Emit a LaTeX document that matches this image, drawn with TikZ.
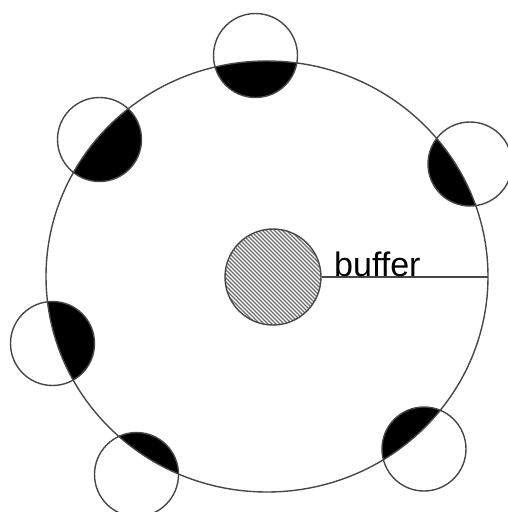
\documentclass[tikz,border=0pt]{standalone}
\usepackage{fontspec}
\setmainfont{Liberation Sans}
\begin{document}
\begin{tikzpicture}[x=1pt,y=-1pt,
  outline/.style={draw=black!72, line width=1.4pt},
  hatchline/.style={draw=black!58, line width=1.2pt},
  lens/.style={fill=black},
]
\useasboundingbox (0,0) rectangle (507,512);
% small circle centres
\coordinate (s1) at (255.5,55.5);
\coordinate (s2) at (99.5,139.5);
\coordinate (s3) at (470,164);
\coordinate (s4) at (52.5,343.5);
\coordinate (s5) at (136.5,474.5);
\coordinate (s6) at (424,449);
\coordinate (bc) at (267,276.5);
% black lenses (part of each small circle inside the big circle)
\foreach \s in {s1,s2,s3,s4,s5,s6}{
  \begin{scope}
    \clip (bc) ellipse [x radius=221pt, y radius=215.5pt];
    \fill[lens] (\s) circle [radius=42pt];
  \end{scope}
  \draw[outline] (\s) circle [radius=42pt];
}
% big circle
\draw[outline] (bc) ellipse [x radius=221pt, y radius=215.5pt];
% central hatched buffer
\node[circle, minimum size=96pt, inner sep=0pt, outline,
  path picture={
    \foreach \i in {-30,...,30}{
      \draw[hatchline] ([shift={(\i*4pt-60pt,60pt)}]path picture bounding box.center)
        -- ([shift={(\i*4pt+60pt,-60pt)}]path picture bounding box.center);
    }
  }] (core) at (273,277) {};
\coordinate (rim) at (488,277);
\draw[outline] (core.east) -- (rim);
\node[anchor=base west, inner sep=0pt, font=\fontsize{34}{40}\selectfont] (label) at (334,276) {buffer};
\end{tikzpicture}
\end{document}
